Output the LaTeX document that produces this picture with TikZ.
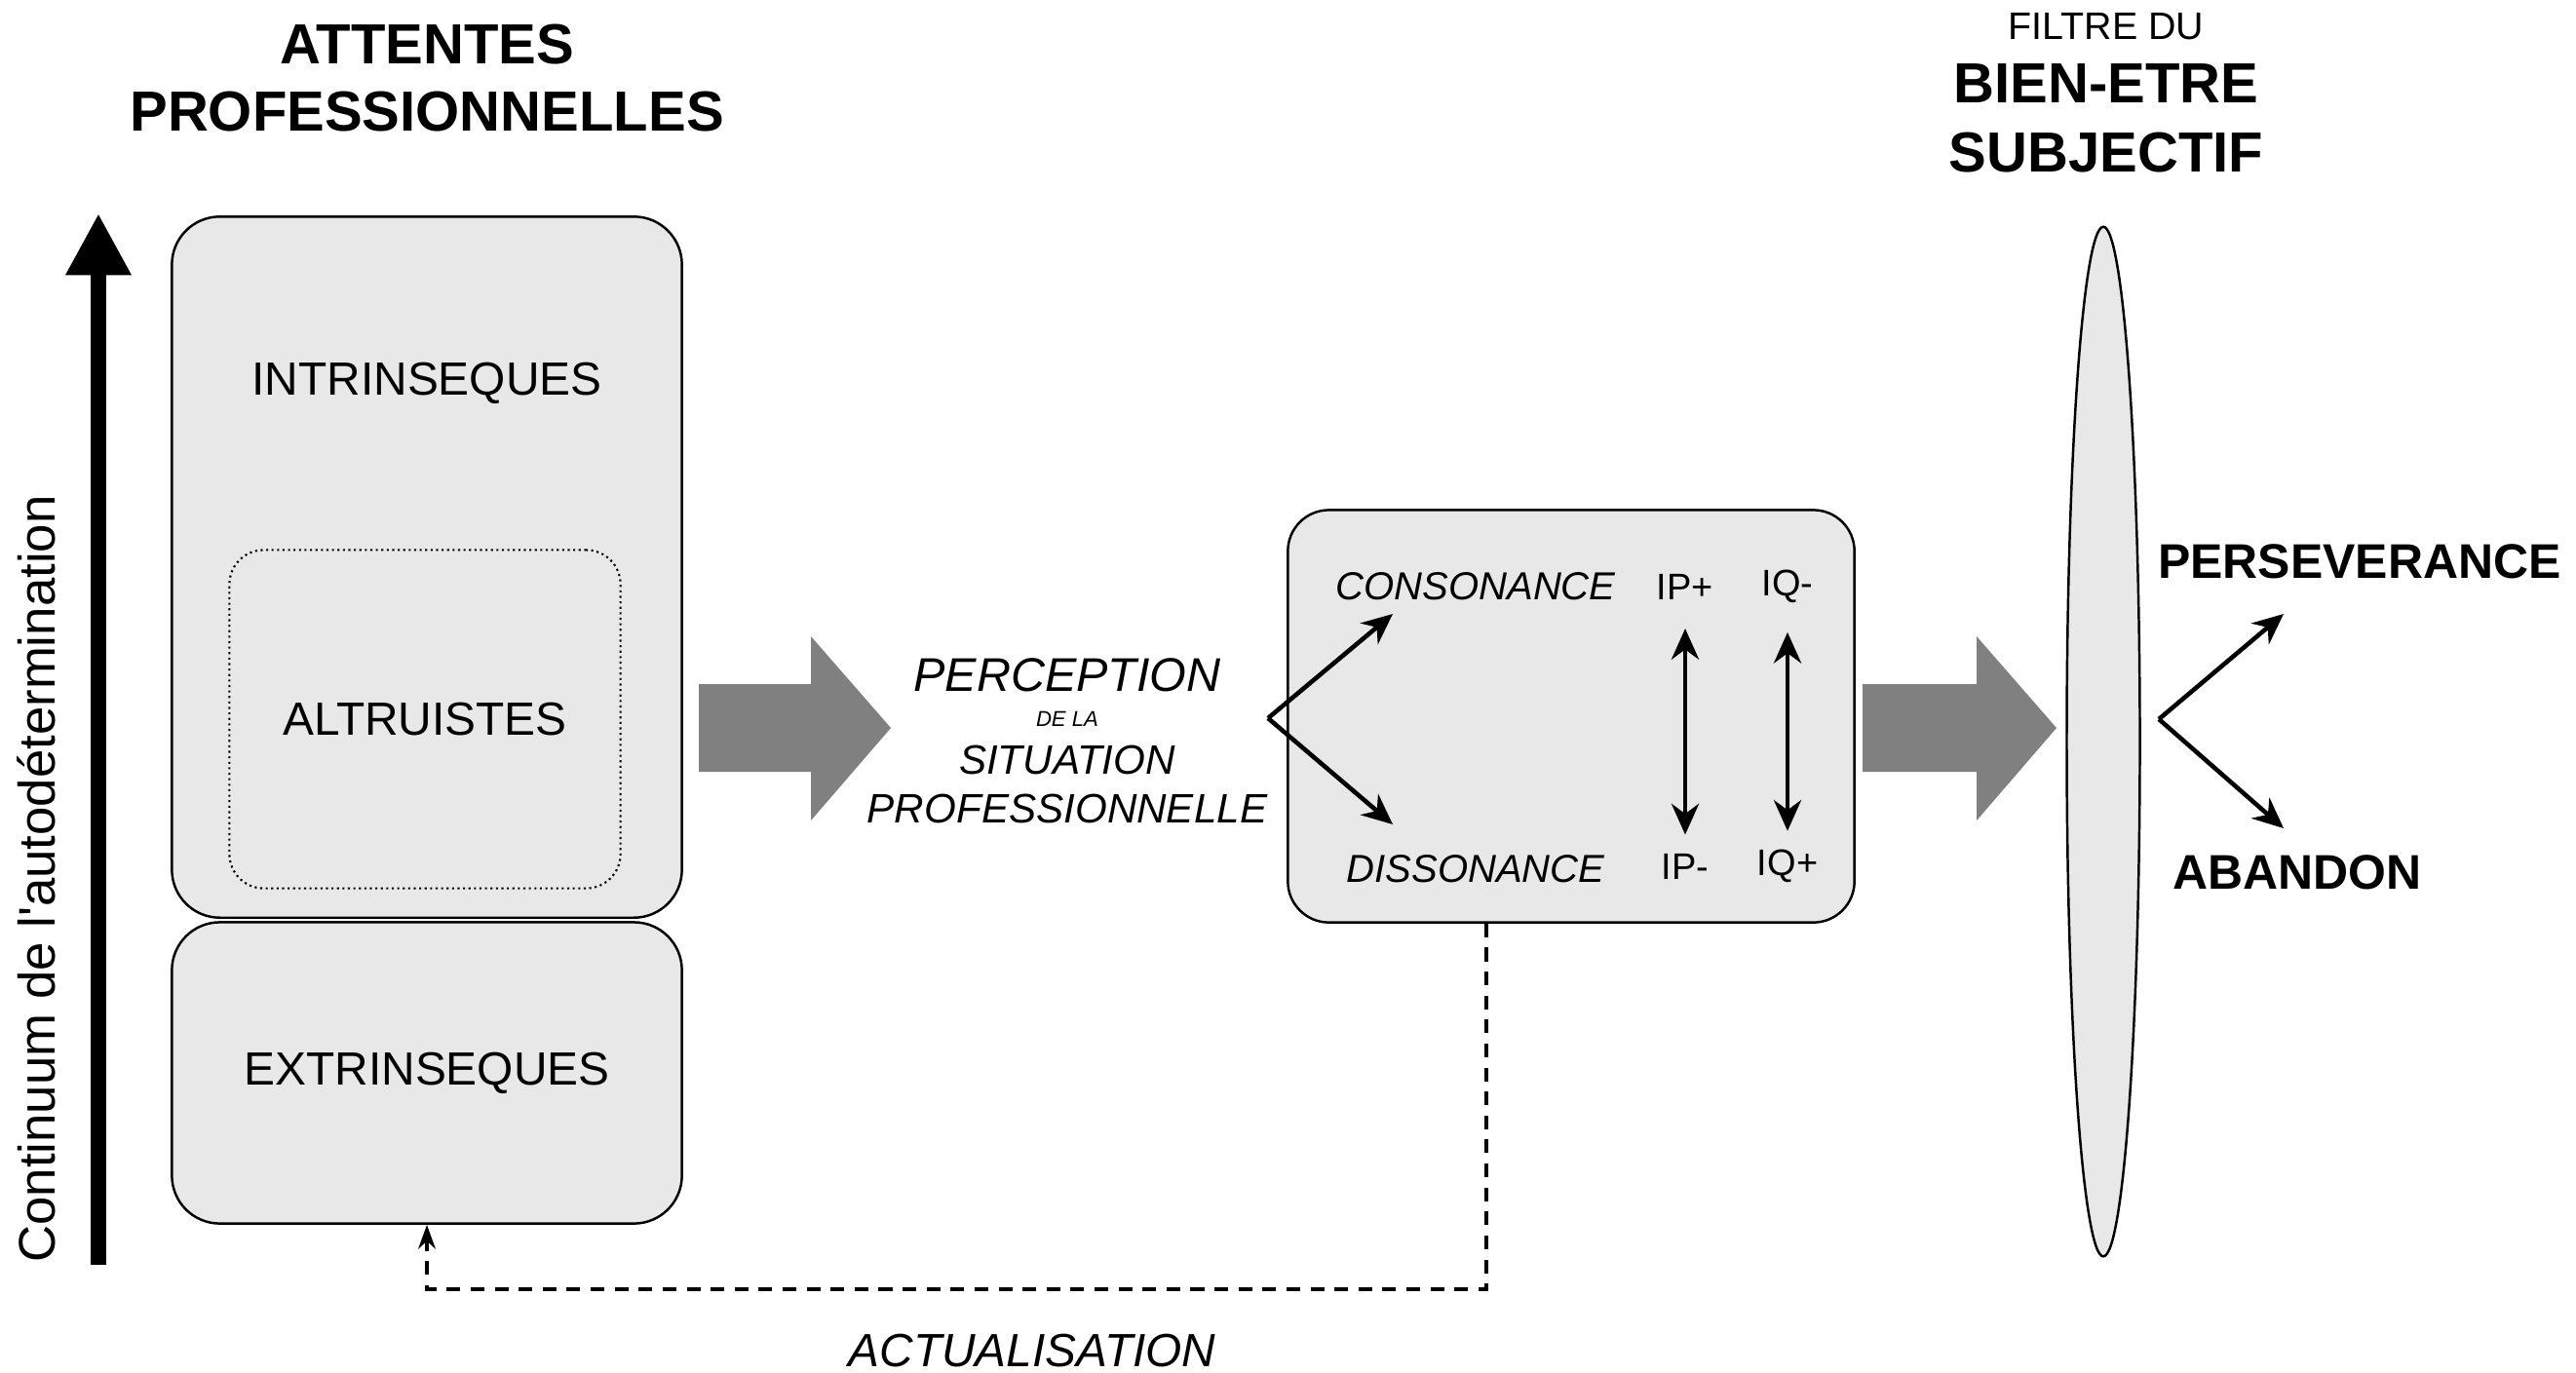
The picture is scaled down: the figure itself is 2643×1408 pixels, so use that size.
\documentclass[tikz,border=0pt]{standalone}
\usepackage{fontspec}
\setmainfont{Liberation Sans}
\usetikzlibrary{arrows.meta,shapes.geometric}

\definecolor{boxgray}{gray}{0.91}
\definecolor{arrowgray}{gray}{0.5}

\begin{document}
\begin{tikzpicture}[x=0.01cm,y=-0.01cm,
    box/.style={draw=black,fill=boxgray,line width=0.7pt,rounded corners=14pt,inner sep=0pt},
    title/.style={font=\bfseries\fontsize{16.5}{19.8}\selectfont,align=center},
    lbl/.style={font=\fontsize{13.6}{16}\selectfont},
    itlbl/.style={font=\itshape\fontsize{13.6}{16}\selectfont},
    arr/.style={line width=1.3pt,-{Stealth[length=9pt,width=8pt]}},
    darr/.style={line width=1.3pt,{Stealth[length=9pt,width=8pt]}-{Stealth[length=9pt,width=8pt]}},
    feedback/.style={line width=1.2pt,dash pattern=on 4pt off 3pt,-{Stealth[length=7pt,width=5pt]}}]

    \useasboundingbox (0,0) rectangle (2643,1408);

    % Titles
    \node[title] (attentes) at (438,80) {ATTENTES\\PROFESSIONNELLES};
    \node[font=\fontsize{11.2}{13}\selectfont] (filtre) at (2161,27) {FILTRE DU};
    \node[title,font=\bfseries\fontsize{16.5}{20.2}\selectfont] (bienetre) at (2161,121) {BIEN-ETRE\\SUBJECTIF};

    % The continuum axis
    \coordinate (axisbot) at (101,1298);
    \coordinate (axistop) at (101,219);
    \draw[line width=4.3pt,-{Triangle[length=18pt,width=18pt]}] (axisbot) -- (axistop);
    \node[rotate=90,font=\fontsize{15}{18}\selectfont] (continuum) at (37,902) {Continuum de l\textquotesingle autodétermination};

    % Place the expectation boxes
    \node[box,minimum width=5.23cm,minimum height=7.19cm] (intr) at (438,582) {};
    \node[lbl] (intrlbl) at (438,393) {INTRINSEQUES};
    \node[draw=black,densely dotted,line width=0.6pt,rounded corners=10pt,minimum width=4.01cm,minimum height=3.47cm,lbl] (altr) at (436,738) {ALTRUISTES};
    \node[box,lbl,minimum width=5.23cm,minimum height=3.09cm] (extr) at (438,1101) {EXTRINSEQUES};

    % Grey block arrows
    \fill[arrowgray] (717,702) -- (832,702) -- (832,653) -- (914,747) -- (832,842) -- (832,792) -- (717,792) -- cycle;
    \fill[arrowgray] (1911,702) -- (2028,702) -- (2028,653) -- (2110,747) -- (2028,842) -- (2028,792) -- (1911,792) -- cycle;

    % Perception
    \node[font=\itshape\fontsize{13.8}{16}\selectfont] (perc) at (1095,693) {PERCEPTION};
    \node[font=\itshape\fontsize{6.3}{8}\selectfont] (dela) at (1095,738) {DE LA};
    \node[font=\itshape\fontsize{12}{14}\selectfont] (situ) at (1095,780) {SITUATION};
    \node[font=\itshape\fontsize{12}{14}\selectfont] (prof) at (1095,830) {PROFESSIONNELLE};

    % Place the middle box
    \node[box,rounded corners=12pt,minimum width=5.81cm,minimum height=4.23cm] (mid) at (1612,735) {};
    \node[font=\itshape\fontsize{11.4}{13}\selectfont] (cons) at (1514,602) {CONSONANCE};
    \node[font=\itshape\fontsize{11.4}{13}\selectfont] (diss) at (1514,892) {DISSONANCE};
    \node[font=\fontsize{10.8}{12}\selectfont] (ipp) at (1729,602) {IP+};
    \node[font=\fontsize{10.8}{12}\selectfont] (iqm) at (1834,602) {IQ-};
    \node[font=\fontsize{10.8}{12}\selectfont] (ipm) at (1729,889) {IP-};
    \node[font=\fontsize{10.8}{12}\selectfont] (iqp) at (1834,889) {IQ+};

    \coordinate (fork1) at (1301,737);
    \coordinate (consin) at (1429,630);
    \coordinate (dissin) at (1429,846);
    \draw[arr] (fork1) -- (consin);
    \draw[arr] (fork1) -- (dissin);
    \draw[darr,shorten <=5pt,shorten >=2pt] (ipp.south) -- (ipm.north);
    \draw[darr,shorten <=5pt,shorten >=2pt] (iqm.south) -- (iqp.north);

    % The filter
    \node[draw=black,fill=boxgray,ellipse,line width=0.7pt,minimum width=0.75cm,minimum height=10.56cm,inner sep=0pt] (filter) at (2158,761) {};

    % Outcomes
    \node[font=\bfseries\fontsize{14.2}{17}\selectfont] (perse) at (2421,576) {PERSEVERANCE};
    \node[font=\bfseries\fontsize{14.2}{17}\selectfont] (abandon) at (2357,895) {ABANDON};
    \coordinate (fork2) at (2215,738);
    \coordinate (persin) at (2343,630);
    \coordinate (abanin) at (2343,850);
    \draw[arr] (fork2) -- (persin);
    \draw[arr] (fork2) -- (abanin);

    % Feedback loop
    \coordinate (act) at (1525,1323);
    \draw[feedback] (mid.south -| act) -- (act) -| (extr.south);
    \node[itlbl] (actual) at (1059,1386) {ACTUALISATION};
\end{tikzpicture}
\end{document}
